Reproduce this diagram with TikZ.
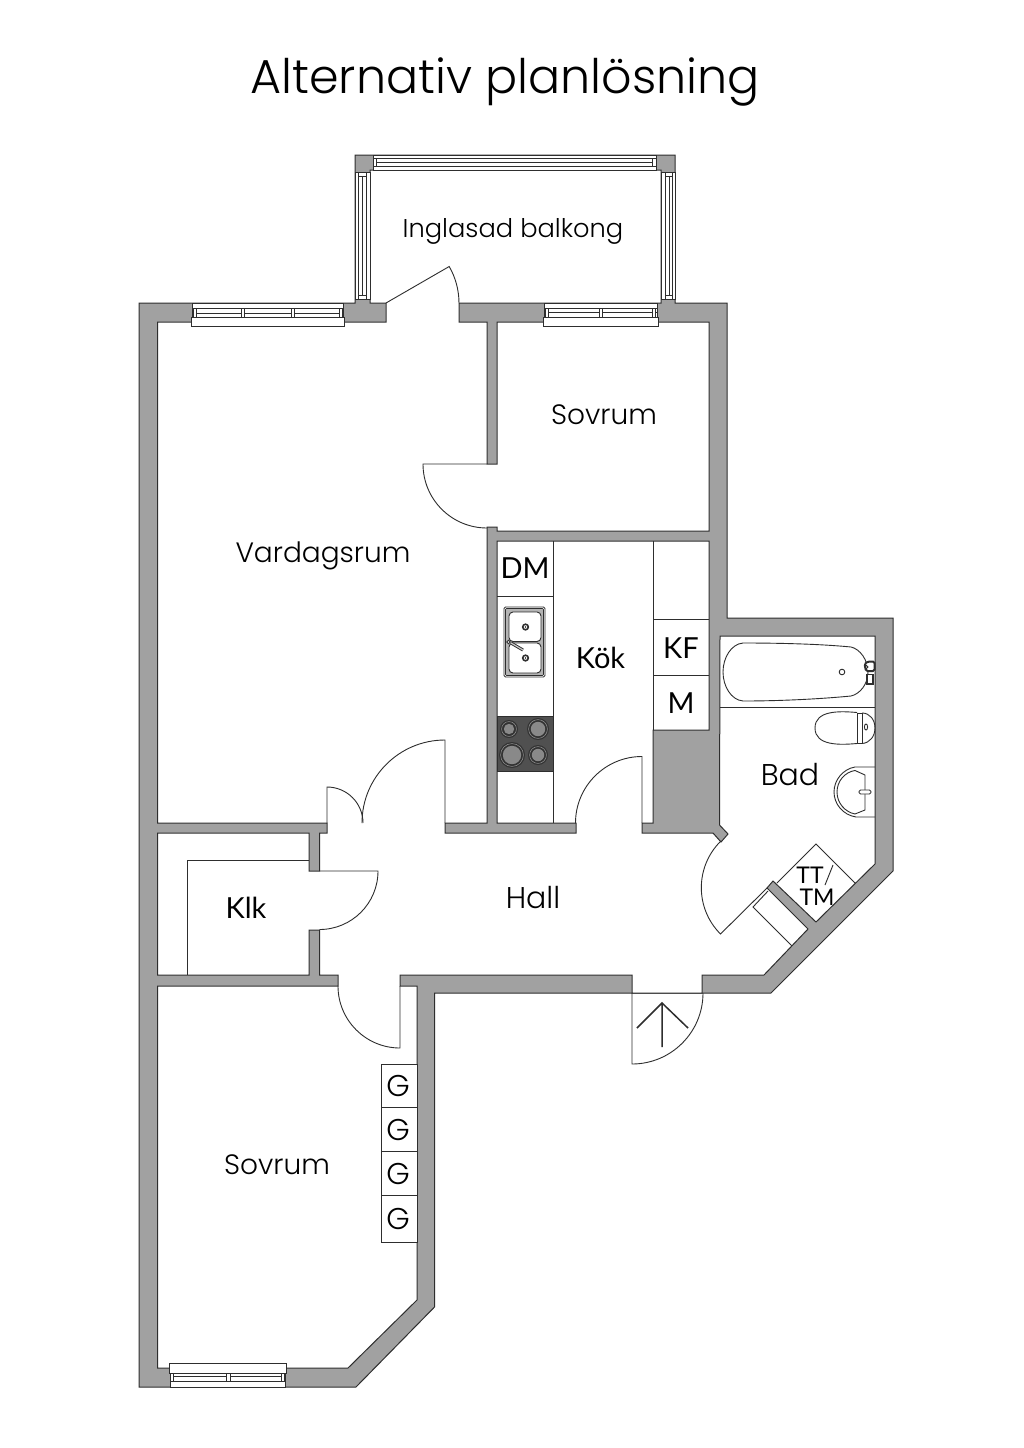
\documentclass[tikz,border=0pt]{standalone}
\usepackage{fontspec}
\setmainfont{Poppins Light}
\newfontfamily\gillfont{Lato}
\usetikzlibrary{arrows.meta}
\definecolor{wallgrey}{HTML}{A1A1A1}
\definecolor{inkline}{HTML}{2E2E2E}
\definecolor{hobgrey}{HTML}{505050}
\tikzset{
  wall/.style={draw=inkline,fill=wallgrey,line width=1pt,line join=miter},
  room/.style={draw=inkline,fill=white,line width=1pt,line join=miter},
  thin/.style={draw=inkline,line width=.9pt},
  pane/.style={draw=inkline,fill=white,line width=.9pt},
  label/.style={inner sep=0pt,font=\fontsize{28}{30}\selectfont},
  gill/.style={inner sep=0pt,font=\gillfont\fontsize{29}{31}\selectfont}
}
\begin{document}
\begin{tikzpicture}[x=1pt,y=-1pt]
\useasboundingbox (0,0) rectangle (1024,1448);
\fill[white] (0,0) rectangle (1024,1448);
\node[inner sep=0pt,anchor=base,font=\fontsize{47.6}{50}\selectfont] (title) at (505,93) {Alternativ planlösning};
\draw[wall] (139,303) -- (355,303) -- (355,155) -- (675,155) -- (675,303) -- (727,303) -- (727,618) -- (893,618) -- (893,871) -- (771,993) -- (434.5,993) -- (434.5,1307) -- (356,1387) -- (139,1387) -- cycle;
\draw[room] (157.5,322) -- (386,322) -- (386,303) -- (370,303) -- (370,170) -- (661,170) -- (661,303) -- (459,303) -- (459,322) -- (487,322) -- (487,464) -- (497,464) -- (497,322) -- (709,322) -- (709,531) -- (497,531) -- (497,527) -- (487,527) -- (487,823) -- (445,823) -- (445,833) -- (576,833) -- (576,823) -- (497,823) -- (497,541) -- (709,541) -- (709,730) -- (653,730) -- (653,823) -- (642,823) -- (642,833) -- (713,833) -- (721,842) -- (728,834) -- (719.5,825) -- (720,636) -- (875,636) -- (875,864) -- (816,922) -- (773,881) -- (767,888) -- (808,929) -- (764,975) -- (702,975) -- (702,993) -- (632,993) -- (632,975) -- (400,975) -- (400,986) -- (417,986) -- (417,1300) -- (348,1368) -- (157.5,1368) -- (157.5,986) -- (338,986) -- (338,975) -- (319.5,975) -- (319.5,930) -- (309,930) -- (309,975) -- (157.5,975) -- (157.5,833) -- (309,833) -- (309,871) -- (319.5,871) -- (319.5,833) -- (327,833) -- (327,823) -- (157.5,823) -- cycle;
% windows
\draw[pane] (191.5,317) rectangle (344,326);
\draw[pane] (192,303) rectangle (343,317);
\draw[thin] (192,308) -- (343,308) (192,313) -- (343,313);
\foreach \mx in {193,241,291,339} \draw[pane] (\mx,308) rectangle ++(3.6,9);
\draw[pane] (543.5,317) rectangle (658,326);
\draw[pane] (544,303) rectangle (657,317);
\draw[thin] (544,308) -- (657,308) (544,312.5) -- (657,312.5);
\foreach \mx in {545,599,652} \draw[pane] (\mx,308) rectangle ++(3.6,9);
\draw[pane] (169,1363) rectangle (286,1373);
\draw[pane] (170,1373) rectangle (285,1387);
\draw[thin] (170,1376) -- (285,1376) (170,1381) -- (285,1381);
\foreach \mx in {170,226.5,281} \draw[pane] (\mx,1373) rectangle ++(3.6,8);
\draw[pane] (373,155.5) rectangle (656,170);
\draw[thin] (373,158) -- (656,158) (373,162.5) -- (656,162.5) (373,166.5) -- (656,166.5);
\foreach \mx in {373,652.5} \draw[pane] (\mx,158) rectangle ++(3.6,8.5);
\draw[pane] (355.5,172) rectangle (370,299);
\draw[thin] (358.5,172) -- (358.5,299) (362.5,172) -- (362.5,299) (366.5,172) -- (366.5,299);
\foreach \my in {172,295} \draw[pane] (358.5,\my) rectangle ++(8,4);
\draw[pane] (661,172) rectangle (675,299);
\draw[thin] (665,172) -- (665,299) (669,172) -- (669,299) (672,172) -- (672,299);
\foreach \my in {172,295} \draw[pane] (665,\my) rectangle ++(7,4);
% doors
\draw[thin] (386,303) -- (449.2,266.5) arc[start angle=-30,end angle=0,radius=73];
\draw[thin] (487,464) -- (423,464) arc[start angle=180,end angle=90,radius=64];
\draw[thin] (327,823) -- (327,787) arc[start angle=270,end angle=360,radius=36];
\draw[thin] (445,823) -- (445,740) arc[start angle=270,end angle=180,radius=83];
\draw[thin] (642,823) -- (642,756.5) arc[start angle=270,end angle=180,radius=66.5];
\draw[thin] (319.5,871) -- (378,871) arc[start angle=0,end angle=90,radius=58.5];
\draw[thin] (400,986) -- (400,1048) arc[start angle=90,end angle=180,radius=62];
\draw[thin] (632,993) -- (632,1064) arc[start angle=90,end angle=0,radius=71];
\draw[thin] (767,888) -- (720.5,934) arc[start angle=135,end angle=225,radius=65.5];
\draw[inkline,line width=1.5pt] (662,1047) -- (662,1003) (637,1028) -- (662,1003) -- (688,1028);
% klk and cupboards
\draw[thin] (187,975) -- (187,860) -- (309,860);
\draw[thin] (553,541) -- (553,823);
\draw[thin] (497,596) -- (553,596);
\draw[thin] (653,541) -- (653,730);
\draw[thin] (653,619) -- (709,619) (653,675) -- (709,675);
\draw[thin] (777,883) -- (816,844) -- (855,883);
\draw[thin] (768,891) -- (753,907) -- (792,946);
\draw[thin] (833,865) -- (825,885);
\draw[thin,fill=white] (381,1064) rectangle (417,1242);
\foreach \gy in {1107.7,1151.7,1195} \draw[thin] (381,\gy) -- (417,\gy);
% hob
\draw[inkline,fill=hobgrey,line width=.9pt] (497,716) rectangle (553,771);
\foreach \hx/\hy/\hr in {509/729/9,538/729/11,512/755/13,538/755/10} {
  \fill[black!80] (\hx,\hy) circle[radius=\hr];
  \draw[black!45,line width=.6pt] (\hx,\hy) circle[radius=\hr-1.6];
  \fill[black!80] (\hx,\hy) circle[radius=\hr-2.4];
  \fill[wallgrey!85!black] (\hx,\hy) circle[radius=\hr-3.8];
}
% sink
\draw[thin,fill=white,rounded corners=1.5pt] (504,607) rectangle (545,677);
\draw[draw=inkline,line width=.6pt,fill=wallgrey!80!white,rounded corners=1pt] (505.5,608.5) rectangle (543.5,675.5);
\draw[thin,fill=white,rounded corners=4pt] (509,612) rectangle (541,641.5);
\draw[thin,fill=white,rounded corners=4pt] (509,643) rectangle (541,673);
\foreach \dy in {627,658} {
  \draw[inkline,line width=1.6pt] (525.5,\dy) circle[radius=2.8];
  \fill[inkline] (525.5,\dy) circle[radius=.9];
}
\draw[inkline,line width=3pt] (511,643) -- (523,650);
\draw[wallgrey!60!white,line width=1.2pt] (511,643) -- (523,650);
\draw[thin,fill=white] (508.5,642) circle[radius=1.8];
% bath
\draw[thin,line width=.9pt] (720,707) -- (875,707);
\draw[thin] (743,643) .. controls (780,643) and (820,644) .. (851,647) .. controls (860,649) and (868,660) .. (868,672) .. controls (868,684) and (860,694) .. (851,696) .. controls (820,699) and (780,701) .. (743,701) .. controls (731,700) and (723,686) .. (723,672) .. controls (723,658) and (731,644) .. (743,643) -- cycle;
\draw[thin] (842,672) circle[radius=2.8];
\draw[thin,line width=1.4pt,fill=white] (867,674.5) rectangle (873,684);
\draw[inkline,line width=2pt,fill=white,rounded corners=1.5pt] (864.5,664) -- (868,661.5) -- (874.5,661.5) -- (874.5,671) -- (866,671) -- cycle;
\draw[thin,fill=white] (866.5,667) circle[radius=1.5];
\draw[thin] (857,712.5) .. controls (840,711) and (815,710) .. (815,728) .. controls (815,746) and (840,745) .. (857,743.5);
\draw[thin] (857,712.5) -- (857,743.5) (862,713) -- (862,743.5) (857,713) -- (862,713) (857,743.5) -- (862,743.5);
\draw[thin] (862,713) .. controls (870,713) and (875,720) .. (875,728) .. controls (875,736) and (870,743) .. (862,743.5);
\draw[thin] (866,727) ellipse[x radius=1.6,y radius=3];
\draw[thin] (875,767) -- (855,767) .. controls (843,769) and (834,780) .. (834,792) .. controls (834,804) and (843,815) .. (856,817) -- (875,817);
\draw[thin] (855,770.5) -- (865,775) -- (865,810) -- (855,814) .. controls (845,812) and (837,803) .. (837,792) .. controls (837,781) and (845,772) .. (855,770.5) -- cycle;
\draw[thin,fill=white,rounded corners=1.5pt] (859,790) rectangle (871,794);
% labels
\node[label,font=\fontsize{25.7}{28}\selectfont] (balkong) at (513,231) {Inglasad balkong};
\node[label] (sovrumN) at (604,415) {Sovrum};
\node[label] (vardag) at (323,556) {Vardagsrum};
\node[label,font=\fontsize{30}{32}\selectfont] (hall) at (533,898) {Hall};
\node[label,font=\fontsize{30}{32}\selectfont] (bad) at (790,775) {Bad};
\node[label] (sovrumS) at (277,1165) {Sovrum};
\node[gill] (klk) at (246,908) {Klk};
\node[gill] (kok) at (600.5,658) {Kök};
\node[gill] (dm) at (525,568) {DM};
\node[gill] (kf) at (681,648) {KF};
\node[gill] (mbox) at (681,703) {M};
\node[gill,font=\gillfont\fontsize{23}{25}\selectfont] (tt) at (810,875) {TT};
\node[gill,font=\gillfont\fontsize{23}{25}\selectfont] (tm) at (817,897) {TM};
\foreach \gy/\gn in {1086/ga,1130/gb,1174/gc,1219/gd} \node[label,font=\fontsize{30}{32}\selectfont] (\gn) at (398,\gy) {G};
\end{tikzpicture}
\end{document}
